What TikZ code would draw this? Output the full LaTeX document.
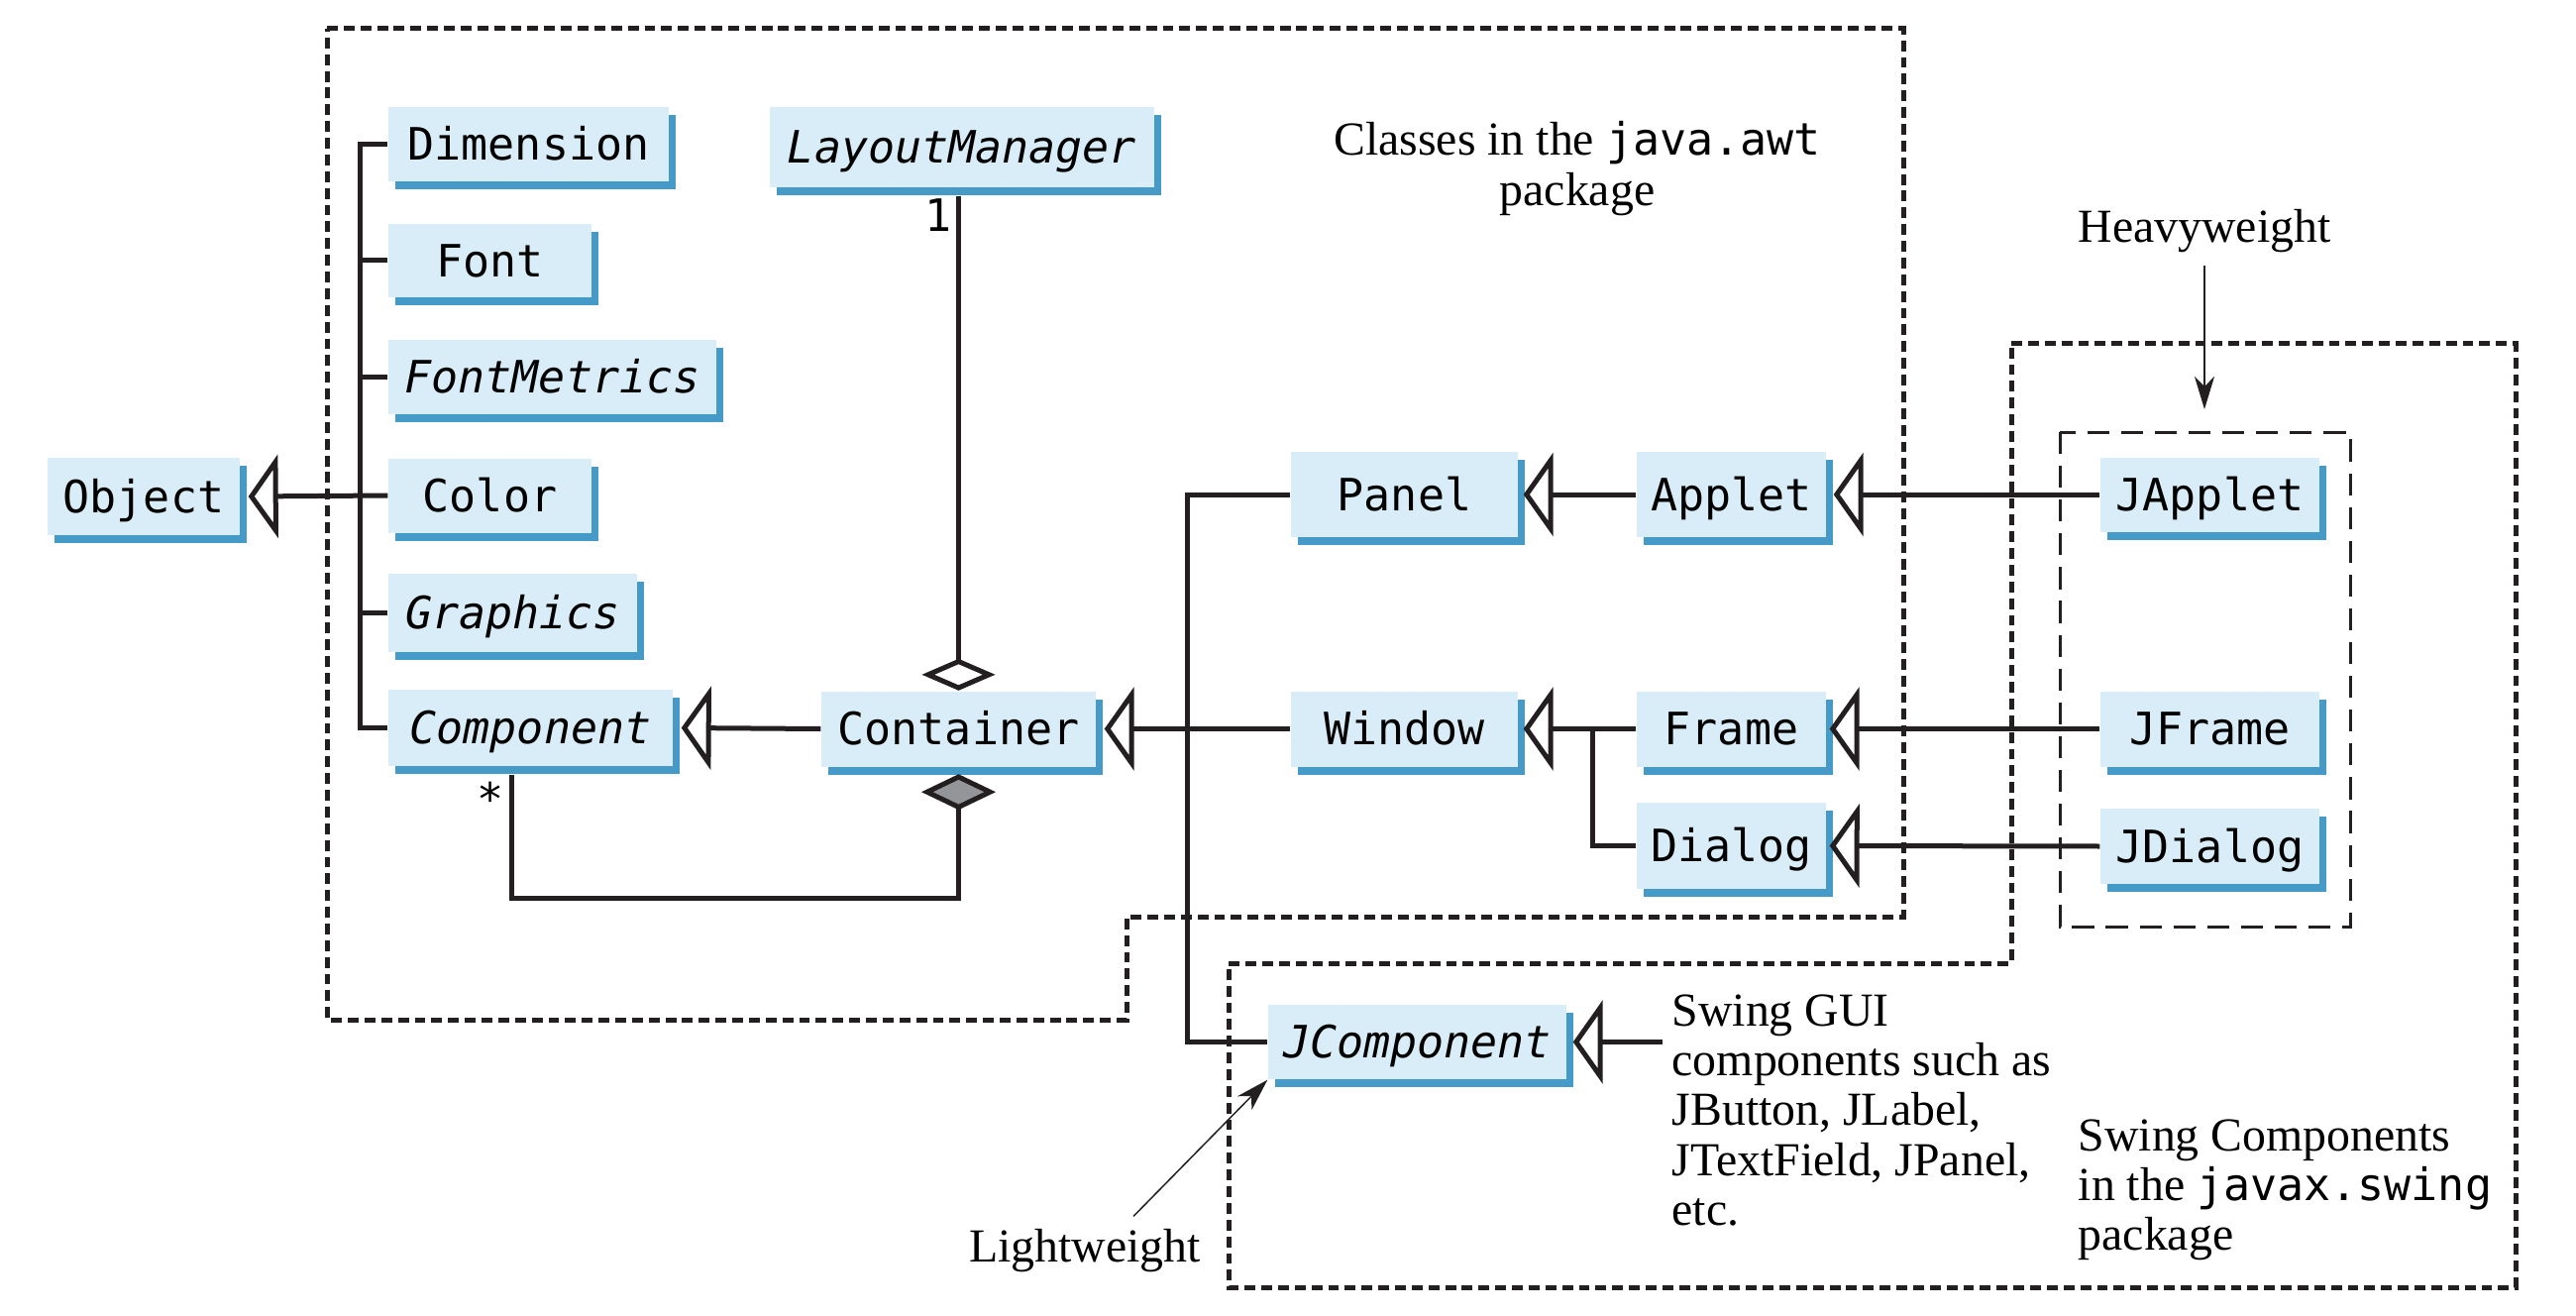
\documentclass[tikz,border=0pt]{standalone}
\usepackage{fontspec}
\setmainfont{Liberation Serif}
\newfontfamily\clsfont{DejaVu Sans Mono}
\usepackage{tikz}
\usetikzlibrary{calc}
\usetikzlibrary{arrows.meta,shadows}
\definecolor{boxblue}{RGB}{217,237,249}
\definecolor{shadeblue}{RGB}{70,154,199}
\definecolor{ink}{RGB}{35,31,32}
\definecolor{diagray}{RGB}{147,149,152}
\newcommand{\pkgname}[1]{{\clsfont\fontsize{12.8}{14.3}\selectfont #1}}

\begin{document}
\begin{tikzpicture}[
        ClassCfg/.style={
            fill=boxblue,
            inner sep=0pt,
            minimum height=0.76cm,
            text height=9.3pt, text depth=0pt,
            font=\clsfont\fontsize{12.8}{14.3}\selectfont,
            drop shadow={fill=shadeblue, opacity=1, shadow xshift=0.07cm, shadow yshift=-0.08cm}
        },
        AbsCfg/.style={ClassCfg, font=\clsfont\itshape\fontsize{12.8}{14.3}\selectfont},
        MultCfg/.style={font=\clsfont\fontsize{12.8}{14.3}\selectfont, inner sep=0pt},
        NoteCfg/.style={font=\fontsize{13.6}{14.3}\selectfont},
        LinkCfg/.style={draw=ink, line width=0.05cm},
        InhCfg/.style={LinkCfg, -{Triangle[open, length=0.3cm, width=0.84cm]}},
        AggCfg/.style={LinkCfg, -{Diamond[open, length=0.32cm, width=0.74cm]}},
        CompCfg/.style={LinkCfg, {Diamond[fill=diagray, length=0.36cm, width=0.75cm]}-},
        PkgCfg/.style={draw=ink, line width=0.05cm, dash pattern=on 3.1pt off 1.7pt},
        GroupCfg/.style={draw=ink, line width=0.03cm, dash pattern=on 6.3pt off 3.4pt},
        PointCfg/.style={draw=ink, line width=0.015cm, -{Stealth[length=0.33cm, width=0.2cm, inset=0.1cm]}}
    ]

    \fill[white] (0,0) rectangle (26,-13.28);

    %package borders
    \draw[PkgCfg] (3.30,-0.29)--(19.21,-0.29)--(19.21,-9.25)--(11.37,-9.25)--(11.37,-10.29)--(3.30,-10.29)--cycle;
    \draw[PkgCfg] (20.30,-3.47)--(25.39,-3.47)--(25.39,-12.99)--(12.40,-12.99)--(12.40,-9.72)--(20.30,-9.72)--cycle;
    \draw[GroupCfg] (20.79,-4.36) rectangle (23.72,-9.35);

    %java.awt classes
    \node[ClassCfg, minimum width=1.94cm, minimum height=0.78cm] (Object) at (1.45,-5.01) {Object};
    \node[ClassCfg, minimum width=2.83cm, minimum height=0.75cm] (Dimension) at (5.335,-1.455) {Dimension};
    \node[ClassCfg, minimum width=2.05cm, minimum height=0.74cm] (Font) at (4.945,-2.63) {Font};
    \node[AbsCfg, minimum width=3.31cm, minimum height=0.75cm] (FontMetrics) at (5.575,-3.805) {FontMetrics};
    \node[ClassCfg, minimum width=2.05cm, minimum height=0.75cm] (Color) at (4.945,-5.0) {Color};
    \node[AbsCfg, minimum width=2.51cm, minimum height=0.79cm] (Graphics) at (5.175,-6.185) {Graphics};
    \node[AbsCfg, minimum width=2.87cm, minimum height=0.77cm] (Component) at (5.355,-7.345) {Component};
    \node[AbsCfg, minimum width=3.88cm, minimum height=0.81cm] (LayoutManager) at (9.71,-1.485) {LayoutManager};
    \node[ClassCfg, minimum width=2.77cm] (Container) at (9.675,-7.355) {Container};
    \node[ClassCfg, minimum width=2.29cm, minimum height=0.86cm] (Panel) at (14.175,-4.99) {Panel};
    \node[ClassCfg, minimum width=1.91cm, minimum height=0.86cm] (Applet) at (17.475,-4.99) {Applet};
    \node[ClassCfg, minimum width=2.29cm] (Window) at (14.175,-7.355) {Window};
    \node[ClassCfg, minimum width=1.91cm] (Frame) at (17.475,-7.355) {Frame};
    \node[ClassCfg, minimum width=1.91cm, minimum height=0.87cm] (Dialog) at (17.475,-8.535) {Dialog};

    %javax.swing classes
    \node[ClassCfg, minimum width=2.21cm, minimum height=0.75cm] (JApplet) at (22.305,-4.99) {JApplet};
    \node[ClassCfg, minimum width=2.21cm] (JFrame) at (22.305,-7.355) {JFrame};
    \node[ClassCfg, minimum width=2.21cm] (JDialog) at (22.305,-8.54) {JDialog};
    \node[AbsCfg, minimum width=3.01cm, minimum height=0.75cm] (JComponent) at (14.305,-10.515) {JComponent};

    %notes
    \node[NoteCfg, align=center] (awtNote) at (15.92,-1.70) {Classes in the \pkgname{java.awt}\\package};
    \node[NoteCfg, anchor=base] (Heavy) at (22.25,-2.45) {Heavyweight};
    \node[NoteCfg, anchor=base] (Light) at (10.95,-12.73) {Lightweight};
    \node[NoteCfg, align=left, anchor=north west, inner sep=0pt] (guiNote) at (16.87,-10.03) {Swing GUI\\components such as\\JButton, JLabel,\\JTextField, JPanel,\\etc.};
    \node[NoteCfg, align=left, anchor=north west, inner sep=0pt] (swingNote) at (20.97,-11.29) {Swing Components\\in the \pkgname{javax.swing}\\package};
    \node[MultCfg, anchor=base] (oneMark) at (9.47,-2.34) {1};
    \node[MultCfg, anchor=base] (manyMark) at (4.95,-8.22) {*};

    \coordinate (trunk) at (11.98,-7.355);
    \coordinate (guiEnd) at (16.78,-10.515);
    \coordinate (heavyTip) at (22.25,-4.13);

    %inheritance
    \draw[InhCfg] (Color.west) -- ([xshift=0.08cm]Object.east);
    \draw[LinkCfg] (Dimension.west) -- ++(-0.28,0) |- (Component.west);
    \foreach \n in {Font,FontMetrics,Graphics}
        \draw[LinkCfg] (\n.west) -- ++(-0.28,0);
    \draw[InhCfg] (Container.west) -- ([xshift=0.08cm]Component.east);
    \draw[InhCfg] (Window.west) -- ([xshift=0.08cm]Container.east);
    \draw[LinkCfg] (Panel.west) -| (trunk) |- (JComponent.west);
    \draw[InhCfg] (Applet.west) -- ([xshift=0.05cm]Panel.east);
    \draw[InhCfg] (Frame.west) -- ([xshift=0.05cm]Window.east);
    \draw[LinkCfg] (Dialog.west) -- ++(-0.44,0) |- (Frame.west);
    \draw[InhCfg] (JApplet.west) -- ([xshift=0.07cm]Applet.east);
    \draw[InhCfg] (JFrame.west) -- ([xshift=0.03cm]Frame.east);
    \draw[InhCfg] (JDialog.west) -- ([xshift=0.03cm]Dialog.east);
    \draw[InhCfg] (guiEnd) -- ([xshift=0.06cm]JComponent.east);

    %aggregation
    \draw[AggCfg] ([yshift=-0.08cm]Container.north |- LayoutManager.south) -- (Container.north);
    \draw[CompCfg] ([yshift=-0.07cm]Container.south) -- ++(0,-1.25) -| ([xshift=-0.195cm,yshift=-0.08cm]Component.south);

    %pointers
    \draw[PointCfg] (Heavy.south) -- (heavyTip);
    \draw[PointCfg] ([xshift=0.49cm]Light.north) -- (JComponent.south west);

\end{tikzpicture}
\end{document}
